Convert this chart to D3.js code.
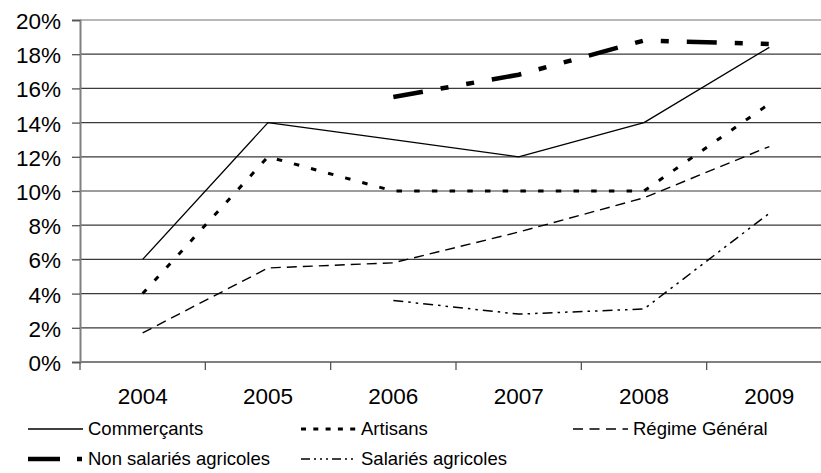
<!DOCTYPE html>
<html>
<head>
<meta charset="utf-8">
<script src="https://cdn.jsdelivr.net/npm/d3@7"></script>
<style>
  html, body { margin: 0; padding: 0; background: #fff; }
  svg { display: block; font-family: "Liberation Sans", Arial, sans-serif; }
</style>
</head>
<body>
<svg id="chart" width="821" height="473"></svg>
<script>
// Years on the horizontal axis
const years = ["2004", "2005", "2006", "2007", "2008", "2009"];

// Rates (%) per scheme; null where no figure exists
const commercants = [6, 14, 13, 12, 14, 18.4];
const artisans = [4, 12, 10, 10, 10, 15.1];
const regimeGeneral = [1.7, 5.5, 5.8, 7.6, 9.6, 12.6];
const nonSalariesAgricoles = [null, null, 15.5, 16.8, 18.8, 18.6];
const salariesAgricoles = [null, null, 3.6, 2.8, 3.1, 8.7];

// Vertical axis ticks (%)
const yTicks = [0, 2, 4, 6, 8, 10, 12, 14, 16, 18, 20];

const seriesNames = ["Commerçants", "Artisans", "Régime Général", "Non salariés agricoles", "Salariés agricoles"];

const svg = d3.select("#chart");

const plotLeft = 80, plotRight = 832, plotTop = 20, plotBottom = 362;

const x = d3.scaleBand().domain(years).range([plotLeft, plotRight]).padding(0);
const y = d3.scaleLinear().domain([0, 20]).range([plotBottom, plotTop]);

// Horizontal gridlines
svg.append("g")
  .selectAll("line")
  .data(yTicks.filter(t => t > 0 && t < 20))
  .join("line")
  .attr("x1", plotLeft).attr("x2", plotRight)
  .attr("y1", d => y(d)).attr("y2", d => y(d))
  .attr("stroke", "#3a3a3a").attr("stroke-width", 1.2);

// Top border of the plot area
svg.append("line")
  .attr("x1", plotLeft).attr("x2", plotRight)
  .attr("y1", y(20)).attr("y2", y(20))
  .attr("stroke", "#a0a0a0").attr("stroke-width", 1.5);

// Y axis
const yAxis = svg.append("g")
  .attr("transform", `translate(${plotLeft},0)`)
  .call(d3.axisLeft(y).tickValues(yTicks).tickFormat(d => d + "%").tickSize(8).tickPadding(11));
yAxis.select(".domain").attr("stroke", "#808080").attr("stroke-width", 2);
yAxis.selectAll(".tick line").attr("stroke", "#555").attr("stroke-width", 1.3);
yAxis.selectAll(".tick text")
  .attr("font-size", 22.5).attr("fill", "#000").attr("dy", "0.38em")
  .attr("font-family", "'Liberation Sans', Arial, sans-serif");

// X axis: line, ticks at band boundaries, labels at band centres
svg.append("line")
  .attr("x1", plotLeft).attr("x2", plotRight)
  .attr("y1", plotBottom).attr("y2", plotBottom)
  .attr("stroke", "#808080").attr("stroke-width", 2);

svg.append("g")
  .selectAll("line")
  .data(years)
  .join("line")
  .attr("x1", d => x(d)).attr("x2", d => x(d))
  .attr("y1", plotBottom).attr("y2", plotBottom + 8)
  .attr("stroke", "#555").attr("stroke-width", 1.3);

svg.append("g")
  .selectAll("text")
  .data(years)
  .join("text")
  .attr("x", d => x(d) + x.bandwidth() / 2)
  .attr("y", 404)
  .attr("text-anchor", "middle")
  .attr("font-size", 22.5)
  .attr("fill", "#000")
  .text(d => d);

// Series styles
const styles = [
  { values: commercants, width: 1.3, dash: null, legendDash: null },
  { values: artisans, width: 3, dash: "5.5,12.2", legendDash: "5,7.3" },
  { values: regimeGeneral, width: 1.4, dash: "10,6", legendDash: "10,6.5" },
  { values: nonSalariesAgricoles, width: 4.5, dash: "30,18,8,18,8,18", legendDash: "32,17,5,40" },
  { values: salariesAgricoles, width: 1.5, dash: "10,5,2.5,5,2.5,5", legendDash: "9,4,2,4,2,4,2,4" }
];

const lineGen = d3.line()
  .defined(d => d.v !== null)
  .x(d => x(d.year) + x.bandwidth() / 2)
  .y(d => y(d.v));

const plot = svg.append("g");
styles.forEach(s => {
  const pts = years.map((yr, i) => ({ year: yr, v: s.values[i] }));
  plot.append("path")
    .datum(pts)
    .attr("d", lineGen)
    .attr("fill", "none")
    .attr("stroke", "#000")
    .attr("stroke-width", s.width)
    .attr("stroke-linejoin", "round")
    .attr("stroke-linecap", "butt")
    .attr("stroke-dasharray", s.dash);
});

// Legend
const legendPos = [
  { x: 28, y: 429 },
  { x: 301, y: 429 },
  { x: 573, y: 429 },
  { x: 28, y: 459 },
  { x: 301, y: 459 }
];
const legend = svg.append("g");
seriesNames.forEach((name, i) => {
  const p = legendPos[i], s = styles[i];
  legend.append("line")
    .attr("x1", p.x).attr("x2", p.x + 55)
    .attr("y1", p.y).attr("y2", p.y)
    .attr("stroke", "#000")
    .attr("stroke-width", s.width)
    .attr("stroke-dasharray", s.legendDash);
  legend.append("text")
    .attr("x", p.x + 60)
    .attr("y", p.y + 5.5)
    .attr("font-size", 18.5)
    .attr("fill", "#000")
    .text(name);
});
</script>
</body>
</html>
